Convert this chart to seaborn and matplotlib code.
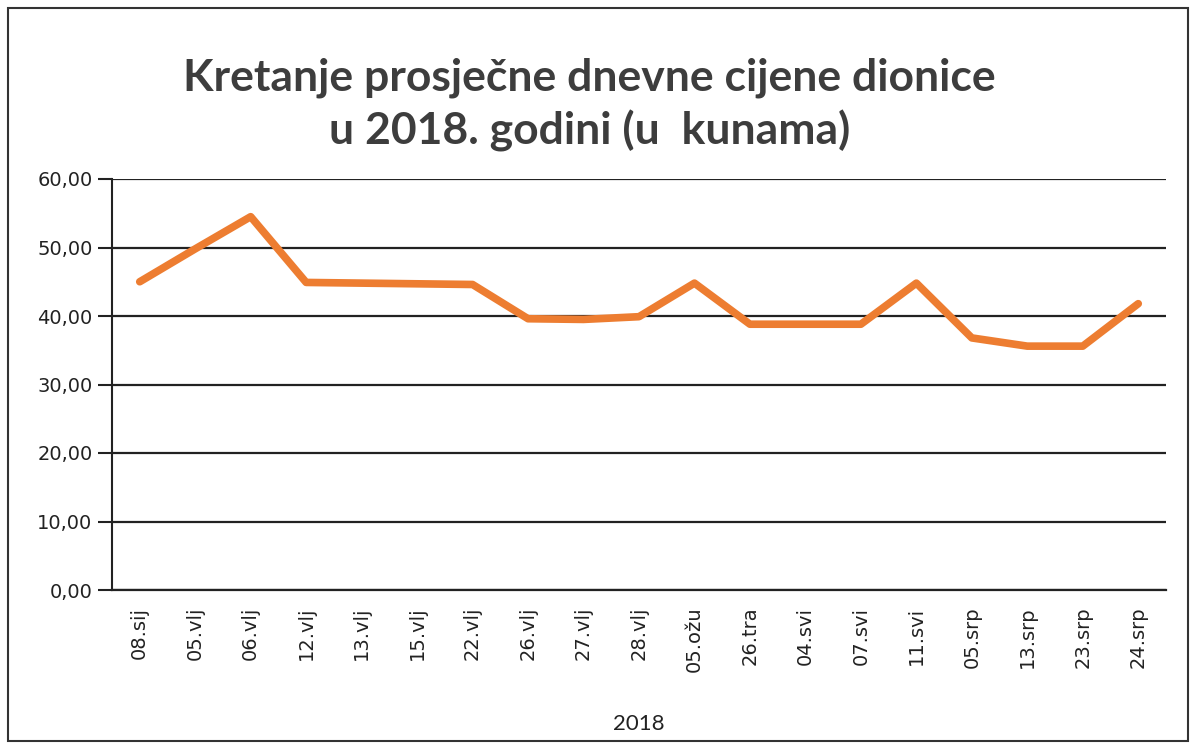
import matplotlib
matplotlib.use("Agg")
import matplotlib.pyplot as plt
import seaborn as sns
import pandas as pd
from matplotlib.patches import Rectangle
from matplotlib.ticker import FuncFormatter

dates = ["08.sij", "05.vlj", "06.vlj", "12.vlj", "13.vlj", "15.vlj", "22.vlj",
         "26.vlj", "27.vlj", "28.vlj", "05.ožu", "26.tra", "04.svi", "07.svi",
         "11.svi", "05.srp", "13.srp", "23.srp", "24.srp"]
prices = [45.0, 49.8, 54.5, 44.9, 44.8, 44.7, 44.6,
          39.6, 39.5, 39.9, 44.8, 38.8, 38.8, 38.8,
          44.8, 36.8, 35.6, 35.6, 41.8]
y_ticks = [0, 10, 20, 30, 40, 50, 60]
title = "Kretanje prosječne dnevne cijene dionice\nu 2018. godini (u  kunama)"
xlabel = "2018"

sns.set_theme(style="white")
plt.rcParams['font.family'] = ['DejaVu Sans']

df = pd.DataFrame({"datum": dates, "cijena": prices})
df["pos"] = range(len(dates))

fig = plt.figure(figsize=(11.96, 7.49), dpi=100)
ax = fig.add_axes([112/1196, 1-590/749, (1166-112)/1196, (590-179)/749])

sns.lineplot(data=df, x="pos", y="cijena", ax=ax, color="#ED7D31",
             linewidth=5.5, sort=False)

ax.set_xlim(-0.5, len(dates) - 0.5)
ax.set_ylim(0, 60)
ax.set_yticks(y_ticks)
ax.yaxis.set_major_formatter(FuncFormatter(lambda v, p: f"{v:.2f}".replace(".", ",")))
ax.set_xticks(df["pos"])
ax.set_xticklabels(dates, rotation=90, fontsize=14, color="#222222")
ax.tick_params(axis="y", labelsize=14, labelcolor="#222222", length=10,
               width=1.5, color="#222222", left=True, pad=4)
ax.tick_params(axis="x", length=0, pad=12)
ax.grid(axis="y", color="#222222", linewidth=1.6)
ax.set_axisbelow(True)
for s in ["top", "right"]:
    ax.spines[s].set_visible(False)
ax.spines["left"].set_color("#222222")
ax.spines["left"].set_linewidth(1.5)
ax.spines["bottom"].set_color("#222222")
ax.spines["bottom"].set_linewidth(1.6)

ax.set_xlabel(xlabel, fontsize=16, family=["Lato", "DejaVu Sans"], color="#222222", labelpad=30)
ax.set_ylabel("")

fig.text(0.493, 0.86, title, ha="center", va="center", fontsize=32,
         fontweight="bold", family=["Lato", "DejaVu Sans"], color="#3d3d3d",
         linespacing=1.35)

fig.patches.append(Rectangle((8/1196, 8/749), 1180/1196, 733/749,
                             transform=fig.transFigure, fill=False,
                             edgecolor="#333333", linewidth=1.5))

fig.savefig("out.png", dpi=100)
